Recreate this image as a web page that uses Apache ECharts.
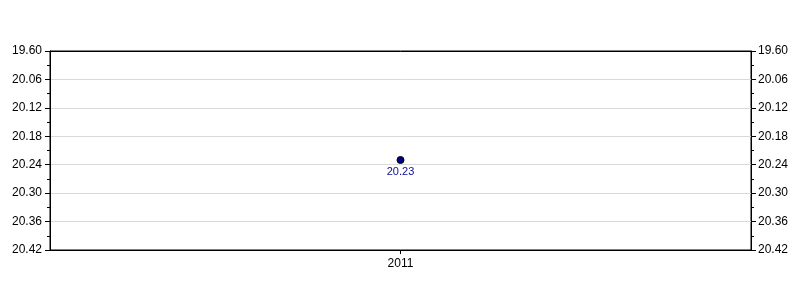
<!DOCTYPE html>
<html><head><meta charset="utf-8">
<script src="https://cdn.jsdelivr.net/npm/echarts@6/dist/echarts.min.js"></script>
<style>html,body{margin:0;padding:0;background:#fff}#c{width:800px;height:300px}</style>
</head><body><div id="c"></div>
<script>
var categories = ["2011"];
var values = [20.23];
var valueLabels = ["20.23"];
var tickLabels = ["19.60", "20.06", "20.12", "20.18", "20.24", "20.30", "20.36", "20.42"];
var yMin = 20.00, yMax = 20.42, yStep = 0.06;

function yAxisCfg(pos) {
  return {
    type: 'value', position: pos, inverse: true,
    min: yMin, max: yMax, interval: yStep,
    axisLine: { show: true, lineStyle: { color: '#000', width: 1 } },
    axisTick: { show: true, length: 5, lineStyle: { color: '#000' } },
    minorTick: { show: true, splitNumber: 2, length: 3, lineStyle: { color: '#000' } },
    axisLabel: {
      color: '#000', fontFamily: 'Liberation Sans, Arial', fontSize: 12, margin: pos === 'left' ? 8 : 7,
      formatter: function (v, i) { return tickLabels[i] !== undefined ? tickLabels[i] : ''; }
    },
    splitLine: { show: pos === 'left', lineStyle: { color: ['#000', '#d9d9d9', '#d9d9d9', '#d9d9d9', '#d9d9d9', '#d9d9d9', '#d9d9d9', '#000'], width: 1 } }
  };
}

var chart = echarts.init(document.getElementById('c'), null, { renderer: 'canvas' });
chart.setOption({
  animation: false,
  grid: { left: 50, right: 49, top: 51, bottom: 50, show: true, borderColor: '#000', borderWidth: 1, backgroundColor: 'transparent' },
  xAxis: {
    type: 'category', data: categories, boundaryGap: true,
    axisLine: { lineStyle: { color: '#000' } },
    axisTick: { show: true, alignWithLabel: true, length: 4, lineStyle: { color: '#000' } },
    axisLabel: { color: '#000', fontFamily: 'Liberation Sans, Arial', fontSize: 12, margin: 8 },
    splitLine: { show: false }
  },
  yAxis: [yAxisCfg('left'), yAxisCfg('right')],
  series: [{
    type: 'scatter', yAxisIndex: 0,
    data: values.map(function (v, i) { return { value: v, label: { formatter: valueLabels[i] } }; }),
    symbol: 'circle', symbolSize: 7,
    itemStyle: { color: '#000080', borderColor: '#000', borderWidth: 1, opacity: 1 },
    label: { show: true, position: 'bottom', distance: 2, color: '#0d0d99', fontFamily: 'Liberation Sans, Arial', fontSize: 11 }
  }]
});
</script></body></html>
